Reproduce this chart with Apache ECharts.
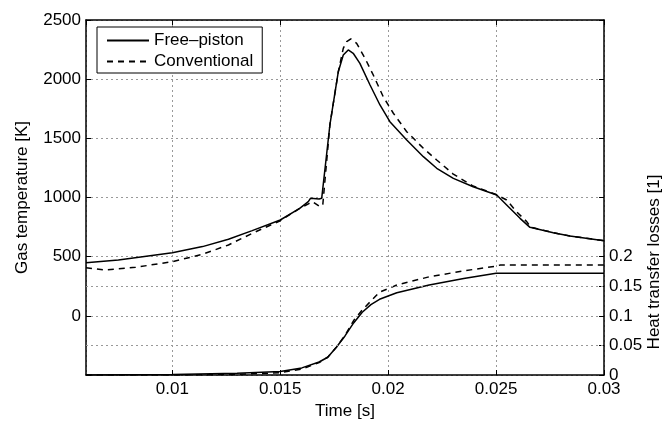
<!DOCTYPE html>
<html>
<head>
<meta charset="utf-8">
<script src="https://cdn.jsdelivr.net/npm/echarts@6/dist/echarts.min.js"></script>
<style>
html,body{margin:0;padding:0;background:#fff;}
#chart{width:667px;height:432px;}
</style>
</head>
<body>
<div id="chart"></div>
<script>
// ---- data ----
const fpTempTime = [0.0060,0.0075,0.0100,0.0114,0.0126,0.0137,0.0150,0.0159,0.0163,0.0164,0.0168,0.01692,0.0173,0.01769,0.01792,0.01815,0.01838,0.01869,0.01916,0.01962,0.02008,0.02086,0.02163,0.02225,0.02302,0.02394,0.02503,0.02549,0.02611,0.02657,0.02765,0.02842,0.0300];
const fpTemp     = [449,472,534,585,647,720,810,908,965,993,987,993,1613,2063,2204,2247,2219,2134,1951,1782,1641,1486,1345,1247,1162,1091,1021,937,824,748,703,675,635];

const cvTempTime = [0.0060,0.0069,0.0083,0.0100,0.0114,0.0126,0.0137,0.0150,0.0159,0.01635,0.0165,0.01684,0.01697,0.0173,0.01769,0.01792,0.01808,0.01827,0.01854,0.01893,0.01931,0.01977,0.02024,0.02086,0.02163,0.02225,0.0230,0.0239,0.0250,0.02549,0.02595,0.02642,0.0266,0.02765,0.02842,0.0300];
const cvTemp     = [407,387,410,458,520,599,697,804,908,951,965,922,937,1613,2063,2261,2317,2340,2303,2176,2035,1852,1712,1556,1416,1317,1200,1100,1025,979,880,796,750,703,675,635];

const fpLossTime = [0.0060,0.0100,0.0130,0.0150,0.0160,0.0168,0.0172,0.0176,0.0180,0.0184,0.0188,0.0192,0.0196,0.0204,0.0219,0.0235,0.0250,0.0300];
const fpLoss     = [0.000,0.001,0.003,0.006,0.012,0.022,0.030,0.047,0.066,0.088,0.106,0.119,0.128,0.139,0.152,0.163,0.172,0.172];

const cvLossTime = [0.0060,0.0100,0.0130,0.0150,0.0160,0.0168,0.0172,0.0176,0.0180,0.0184,0.0188,0.0192,0.0196,0.0204,0.0219,0.0235,0.0250,0.0252,0.0300];
const cvLoss     = [0.000,0.000,0.001,0.004,0.010,0.021,0.030,0.047,0.067,0.092,0.110,0.125,0.140,0.152,0.166,0.176,0.184,0.186,0.186];

const seriesNames = ['Free–piston','Conventional'];
const lossTicks = [0, 0.05, 0.1, 0.15, 0.2];
const extraGridK = [250, -250];

const zip = (a,b) => a.map((v,i)=>[v,b[i]]);

const FONT = 'Liberation Sans, Arial, Helvetica, sans-serif';
const FS = 17;
const gridLine = {show:true, lineStyle:{color:'#999', width:1, type:[2,3]}};

const chart = echarts.init(document.getElementById('chart'), null, {renderer:'canvas'});
chart.setOption({
  animation:false,
  backgroundColor:'#fff',
  grid:{left:86, right:63, top:20, bottom:57, containLabel:false, outerBoundsMode:'none'},
  legend:{
    show:true, orient:'vertical', left:97, top:27,
    data:seriesNames,
    backgroundColor:'#fff', borderColor:'#000', borderWidth:1,
    padding:[5,9,3,9], itemGap:4, itemWidth:42, itemHeight:17,
    itemStyle:{opacity:0, borderWidth:0},
    textStyle:{fontFamily:FONT, fontSize:FS, color:'#000'},
    selectedMode:false
  },
  xAxis:[{
    type:'value', min:0.006, max:0.03, splitNumber:5, position:'bottom',
    name:'Time [s]', nameLocation:'middle', nameGap:28,
    nameTextStyle:{fontFamily:FONT, fontSize:FS, color:'#000'},
    axisLine:{show:true, onZero:false, lineStyle:{color:'#000', width:1.5}},
    axisTick:{show:true, inside:true, length:5, lineStyle:{color:'#000'}},
    axisLabel:{showMinLabel:false, margin:6, fontFamily:FONT, fontSize:FS, color:'#000'},
    splitLine:gridLine
  },{
    type:'value', min:0.006, max:0.03, splitNumber:5, position:'top',
    axisLine:{show:true, onZero:false, lineStyle:{color:'#000', width:1.5}},
    axisTick:{show:true, inside:true, length:5, lineStyle:{color:'#000'}},
    axisLabel:{show:false}, splitLine:{show:false}
  }],
  yAxis:[{
    type:'value', min:-500, max:2500, interval:500, position:'left',
    name:'Gas temperature [K]', nameLocation:'middle', nameGap:55, nameRotate:90,
    nameTextStyle:{fontFamily:FONT, fontSize:FS, color:'#000'},
    axisLine:{show:true, onZero:false, lineStyle:{color:'#000', width:1.5}},
    axisTick:{show:true, inside:true, length:5, lineStyle:{color:'#000'}},
    axisLabel:{margin:5, fontFamily:FONT, fontSize:FS, color:'#000',
      formatter:v => v < 0 ? '' : String(v)},
    splitLine:gridLine
  },{
    type:'value', min:0, max:0.6, interval:0.05, position:'right', offset:0,
    axisLine:{show:true, onZero:false, lineStyle:{color:'#000', width:1.5}},
    axisTick:{show:true, inside:true, length:5, customValues:lossTicks, lineStyle:{color:'#000'}},
    axisLabel:{margin:5, fontFamily:FONT, fontSize:FS, color:'#000', customValues:lossTicks},
    splitLine:{show:false}
  },{
    type:'value', min:-500, max:2500, interval:500, position:'right', offset:0,
    axisLine:{show:false},
    axisTick:{show:true, inside:true, length:5, lineStyle:{color:'#000'}},
    axisLabel:{show:false}, splitLine:{show:false}
  }],
  graphic:[{
    type:'text', x:654, y:262, rotation:Math.PI/2,
    style:{text:'Heat transfer losses [1]', fontFamily:FONT, fontSize:FS, fill:'#000',
      align:'center', verticalAlign:'middle'}
  }],
  series:[{
    name:seriesNames[0], type:'line', xAxisIndex:0, yAxisIndex:0,
    data:zip(fpTempTime, fpTemp), symbol:'none', smooth:false,
    lineStyle:{color:'#000', width:1.5, type:'solid'}, itemStyle:{color:'#000'},
    markLine:{silent:true, symbol:'none', label:{show:false}, animation:false,
      lineStyle:{color:'#999', width:1, type:[2,3]},
      data:extraGridK.map(v=>({yAxis:v}))}
  },{
    name:seriesNames[1], type:'line', xAxisIndex:0, yAxisIndex:0,
    data:zip(cvTempTime, cvTemp), symbol:'none',
    lineStyle:{color:'#000', width:1.5, type:[6,5]}, itemStyle:{color:'#000'}
  },{
    name:seriesNames[0], type:'line', xAxisIndex:0, yAxisIndex:1,
    data:zip(fpLossTime, fpLoss), symbol:'none',
    lineStyle:{color:'#000', width:1.5, type:'solid'}, itemStyle:{color:'#000'}
  },{
    name:seriesNames[1], type:'line', xAxisIndex:0, yAxisIndex:1,
    data:zip(cvLossTime, cvLoss), symbol:'none',
    lineStyle:{color:'#000', width:1.5, type:[6,5]}, itemStyle:{color:'#000'}
  }]
});
</script>
</body>
</html>
